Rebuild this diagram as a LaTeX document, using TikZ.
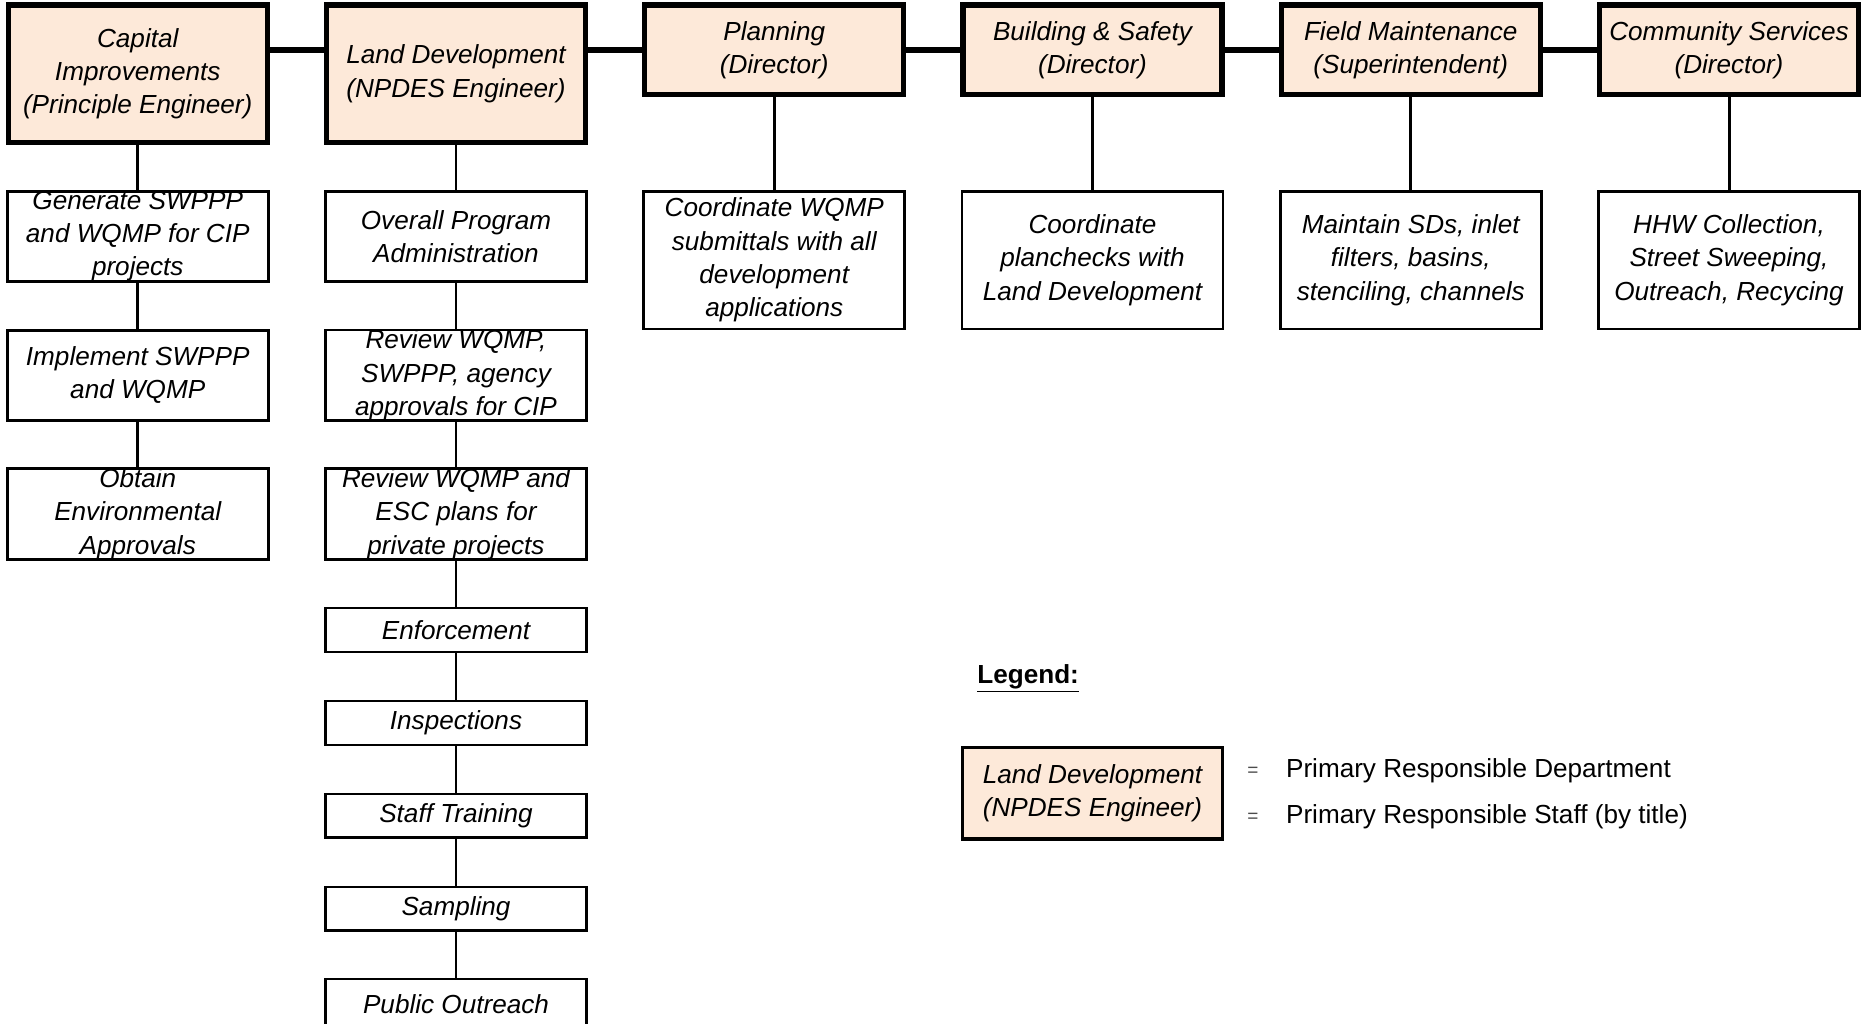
\documentclass[tikz,border=0pt]{standalone}
\usepackage{fontspec}
\setmainfont{Liberation Sans}
\definecolor{peach}{HTML}{FDE9D9}
\begin{document}
\begin{tikzpicture}[x=1pt,y=-1pt,
  every node/.style={inner sep=0pt, outer sep=0pt, align=center,
    font=\fontsize{22}{28}\selectfont\itshape},
  dept/.style={draw, fill=peach, line width=4.5pt, minimum width=218pt},
  tall/.style={minimum height=115.5pt},
  short/.style={minimum height=75.5pt},
  task/.style={draw, fill=white, line width=2.2pt, minimum width=219.8pt},
  t2/.style={minimum height=75.8pt},
  t1/.style={minimum height=36.8pt},
  t4/.style={minimum height=115.8pt},
  bus/.style={line width=5.5pt},
  link/.style={line width=2.5pt},
  plain/.style={font=\fontsize{22}{28}\selectfont\upshape}]
\useasboundingbox (0,0) rectangle (1568,862);

% department heads
\node[dept,tall]  (cap) at (116,62)  {Capital\\Improvements\\(Principle Engineer)};
\node[dept,tall]  (ld)  at (384,62)  {Land Development\\(NPDES Engineer)};
\node[dept,short] (pl)  at (652,42)  {Planning\\(Director)};
\node[dept,short] (bs)  at (920,42)  {Building \& Safety\\(Director)};
\node[dept,short] (fm)  at (1188,42) {Field Maintenance\\(Superintendent)};
\node[dept,short] (cs)  at (1456,42) {Community Services\\(Director)};

% bus joining the departments
\draw[bus] (cap.east |- pl.center) -- (ld.west |- pl.center);
\draw[bus] (ld.east |- pl.center) -- (pl.west);
\draw[bus] (pl.east) -- (bs.west);
\draw[bus] (bs.east) -- (fm.west);
\draw[bus] (fm.east) -- (cs.west);

% Capital Improvements tasks
\node[task,t2] (c1) at (116,199) {Generate SWPPP\\and WQMP for CIP\\projects};
\node[task,t2] (c2) at (116,316) {Implement SWPPP\\and WQMP};
\node[task,t2] (c3) at (116,433) {Obtain\\Environmental\\Approvals};

% Land Development tasks
\node[task,t2] (l1) at (384,199)   {Overall Program\\Administration};
\node[task,t2] (l2) at (384,316)   {Review WQMP,\\SWPPP, agency\\approvals for CIP};
\node[task,t2] (l3) at (384,433)   {Review WQMP and\\ESC plans for\\private projects};
\node[task,t1] (l4) at (384,530.5) {Enforcement};
\node[task,t1] (l5) at (384,608.8) {Inspections};
\node[task,t1] (l6) at (384,687.1) {Staff Training};
\node[task,t1] (l7) at (384,765.4) {Sampling};
\node[task,minimum height=42pt] (l8) at (384,845.5) {Public Outreach};

% other departments' tasks
\node[task,t4] (p1) at (652,219)  {Coordinate WQMP\\submittals with all\\development\\applications};
\node[task,t4] (b1) at (920,219)  {Coordinate\\planchecks with\\Land Development};
\node[task,t4] (f1) at (1188,219) {Maintain SDs, inlet\\filters, basins,\\stenciling, channels};
\node[task,t4] (s1) at (1456,219) {HHW Collection,\\Street Sweeping,\\Outreach, Recycing};

% vertical links
\draw[link] (cap.south) -- (c1.north);
\draw[link] (c1.south) -- (c2.north);
\draw[link] (c2.south) -- (c3.north);
\draw[link] (ld.south) -- (l1.north);
\draw[link] (l1.south) -- (l2.north);
\draw[link] (l2.south) -- (l3.north);
\draw[link] (l3.south) -- (l4.north);
\draw[link] (l4.south) -- (l5.north);
\draw[link] (l5.south) -- (l6.north);
\draw[link] (l6.south) -- (l7.north);
\draw[link] (l7.south) -- (l8.north);
\draw[link] (pl.south) -- (p1.north);
\draw[link] (bs.south) -- (b1.north);
\draw[link] (fm.south) -- (f1.north);
\draw[link] (cs.south) -- (s1.north);

% legend
\node[plain, anchor=west, font=\fontsize{22}{28}\selectfont\bfseries] (lgt) at (823,571) {\underline{Legend:}};
\node[draw, fill=peach, line width=3pt, minimum width=219pt, minimum height=77pt] (lgb) at (920,668)
  {Land Development\\(NPDES Engineer)};
\node[plain, font=\fontsize{16}{20}\selectfont, text=black!70] (eq1) at (1055,650) {=};
\node[plain, font=\fontsize{16}{20}\selectfont, text=black!70] (eq2) at (1055,689) {=};
\node[plain, anchor=west] (lg1) at (1083,649) {Primary Responsible Department};
\node[plain, anchor=west] (lg2) at (1083,688) {Primary Responsible Staff (by title)};
\end{tikzpicture}
\end{document}
